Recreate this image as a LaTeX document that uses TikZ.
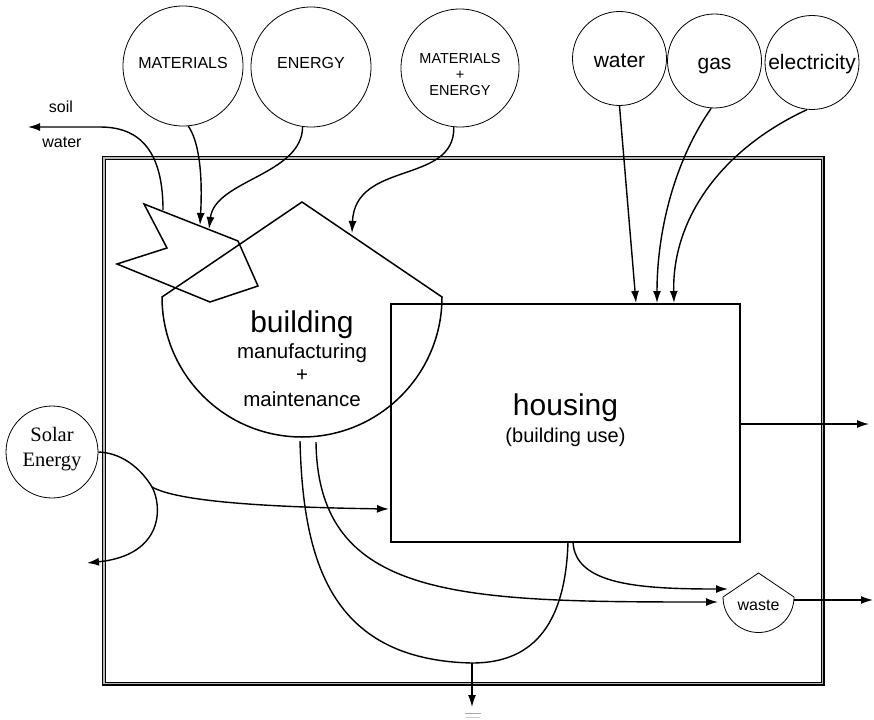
\documentclass[tikz,border=0pt]{standalone}
\usepackage{fontspec}
\setmainfont{Liberation Sans}
\newfontfamily\serifface{Liberation Serif}
\usetikzlibrary{arrows.meta}
\begin{document}
\begin{tikzpicture}[x=1pt,y=-1pt,
  src/.style={circle,draw,line width=0.8pt,inner sep=0pt},
  flow/.style={line width=1.4pt,-{Latex[length=12pt,width=8pt]}},
  plain/.style={line width=1.4pt},
  shp/.style={line width=1.5pt,line join=miter},
  fA/.style={font=\fontsize{16}{19}\selectfont,anchor=base},
  fB/.style={font=\fontsize{16}{19}\selectfont,anchor=base},
  fS/.style={font=\fontsize{14.5}{17}\selectfont,anchor=base},
  fC/.style={font=\fontsize{21}{25}\selectfont,anchor=base},
  fD/.style={font=\fontsize{20.5}{24}\selectfont,anchor=base},
  fE/.style={font=\fontsize{30}{36}\selectfont,anchor=base},
]
\useasboundingbox (0,0) rectangle (874,719);
% system boundary
\draw[double=gray!55,double distance=1.6pt,line width=1.2pt] (104,158) rectangle (822.5,683.5);

% source circles
\node[src,minimum size=120pt] (mat) at (183,66) {};
\node[fB] at (183,69) {MATERIALS};
\node[src,minimum size=120pt] (ene) at (311,67) {};
\node[fB] at (311,69) {ENERGY};
\node[src,minimum size=118pt] (me) at (460,68) {};
\node[fS] (meA) at (460,64) {MATERIALS};
\node[fS] (meB) at (460,80) {+};
\node[fS] (meC) at (460,96) {ENERGY};
\node[src,minimum size=94pt] (wat) at (619.5,58.5) {};
\node[fC] at (619.5,68) {water};
\node[src,minimum size=94pt] (gas) at (714.5,61) {};
\node[fC] at (714.5,69.5) {gas};
\node[src,minimum size=94pt] (ele) at (812,62.5) {};
\node[fC] at (812,69.5) {electricity};
\node[src,minimum size=92pt] (sol) at (52,452) {};
\node[fD,font=\fontsize{20.5}{24}\serifface] at (52,441) {Solar};
\node[fD,font=\fontsize{20.5}{24}\serifface] at (52,466) {Energy};

% zigzag (extraction)
\draw[shp] (144,204) -- (238,241) -- (258,286) -- (210,302) -- (117,264) -- (167,248) -- cycle;

% building shape
\draw[shp] (162,297) -- (302,202) -- (442,297)
  .. controls (442,374.3) and (379.3,437) .. (302,437)
  .. controls (224.7,437) and (162,374.3) .. (162,297) -- cycle;
\node[fE] at (302,332) {building};
\node[fD,font=\fontsize{20.5}{24}\selectfont] at (302,358) {manufacturing};
\node[fD,font=\fontsize{20.5}{24}\selectfont] at (302,381) {+};
\node[fD,font=\fontsize{20.5}{24}\selectfont] at (302,406) {maintenance};

% housing
\node[draw,line width=1.5pt,minimum width=349pt,minimum height=238pt,inner sep=0pt] (hou) at (565.5,423) {};
\node[fE] at (565.5,415) {housing};
\node[fD,font=\fontsize{20}{24}\selectfont] at (565.5,442) {(building use)};

% waste
\draw[line width=0.8pt] (723,597) .. controls (723,616.6) and (738.9,632.5) .. (758.5,632.5)
  .. controls (778.1,632.5) and (794,616.6) .. (794,597) -- (758.5,573) -- cycle;
\node[fB] (wst) at (758.5,610) {waste};

% named points
\coordinate (zzA) at (200,225);
\coordinate (zzB) at (209,229);
\coordinate (roofT) at (352,233);
\coordinate (zzTop) at (163,210);
\coordinate (soilEnd) at (28,127);
\coordinate (hinW) at (636,303);
\coordinate (hinG) at (657,303);
\coordinate (hinE) at (674,303);
\coordinate (split) at (152,487);
\coordinate (hinS) at (389,509);
\coordinate (solOut) at (87,563);
\coordinate (bG) at (300,441);
\coordinate (bW) at (316,442);
\coordinate (gj) at (472,663);
\coordinate (gnd) at (472,707);
\coordinate (hG) at (568,542);
\coordinate (hWs) at (573,542);
\coordinate (wIn1) at (718,602);
\coordinate (wIn2) at (728,589);
\coordinate (wR) at (794,600);
\coordinate (wOut) at (873,600);
\coordinate (hR) at (740,424);
\coordinate (hOut) at (869,424);

% connectors
\draw[flow] (mat.-85) .. controls (198,140) and (203,170) .. (zzA);
\draw[flow] (ene.-98) .. controls (302,175) and (215,180) .. (zzB);
\draw[flow] (me.-96) .. controls (455,185) and (355,160) .. (roofT);
\draw[flow] (zzTop) .. controls (163,140) and (130,127) .. (100,127) -- (soilEnd);
\node[fA] at (61,113) {soil};
\node[fA] at (62,148) {water};
\draw[flow] (wat.-90) -- (hinW);
\draw[flow] (gas.-94) .. controls (675,160) and (657,230) .. (hinG);
\draw[flow] (ele.-96) .. controls (720,150) and (672,220) .. (hinE);
\draw[plain] (sol.east) .. controls (125,453) and (143,472) .. (split);
\draw[flow] (split) .. controls (175,500) and (250,507) .. (hinS);
\draw[flow] (split) .. controls (162,505) and (165,555) .. (solOut);
\draw[plain] (bG) .. controls (303,560) and (330,660) .. (gj);
\draw[plain] (hG) .. controls (565,640) and (520,663) .. (gj);
\draw[flow] (gj) -- (gnd);
\draw[gray!70,line width=0.9pt] (465,713.5) -- (481,713.5);
\draw[gray!40,line width=0.7pt] (466,717) -- (480,717);
\draw[flow] (bW) .. controls (318,600) and (460,602) .. (wIn1);
\draw[flow] (hWs) .. controls (575,585) and (640,589) .. (wIn2);
\draw[flow] (wR) -- (wOut);
\draw[flow] (hR) -- (hOut);
\end{tikzpicture}
\end{document}
